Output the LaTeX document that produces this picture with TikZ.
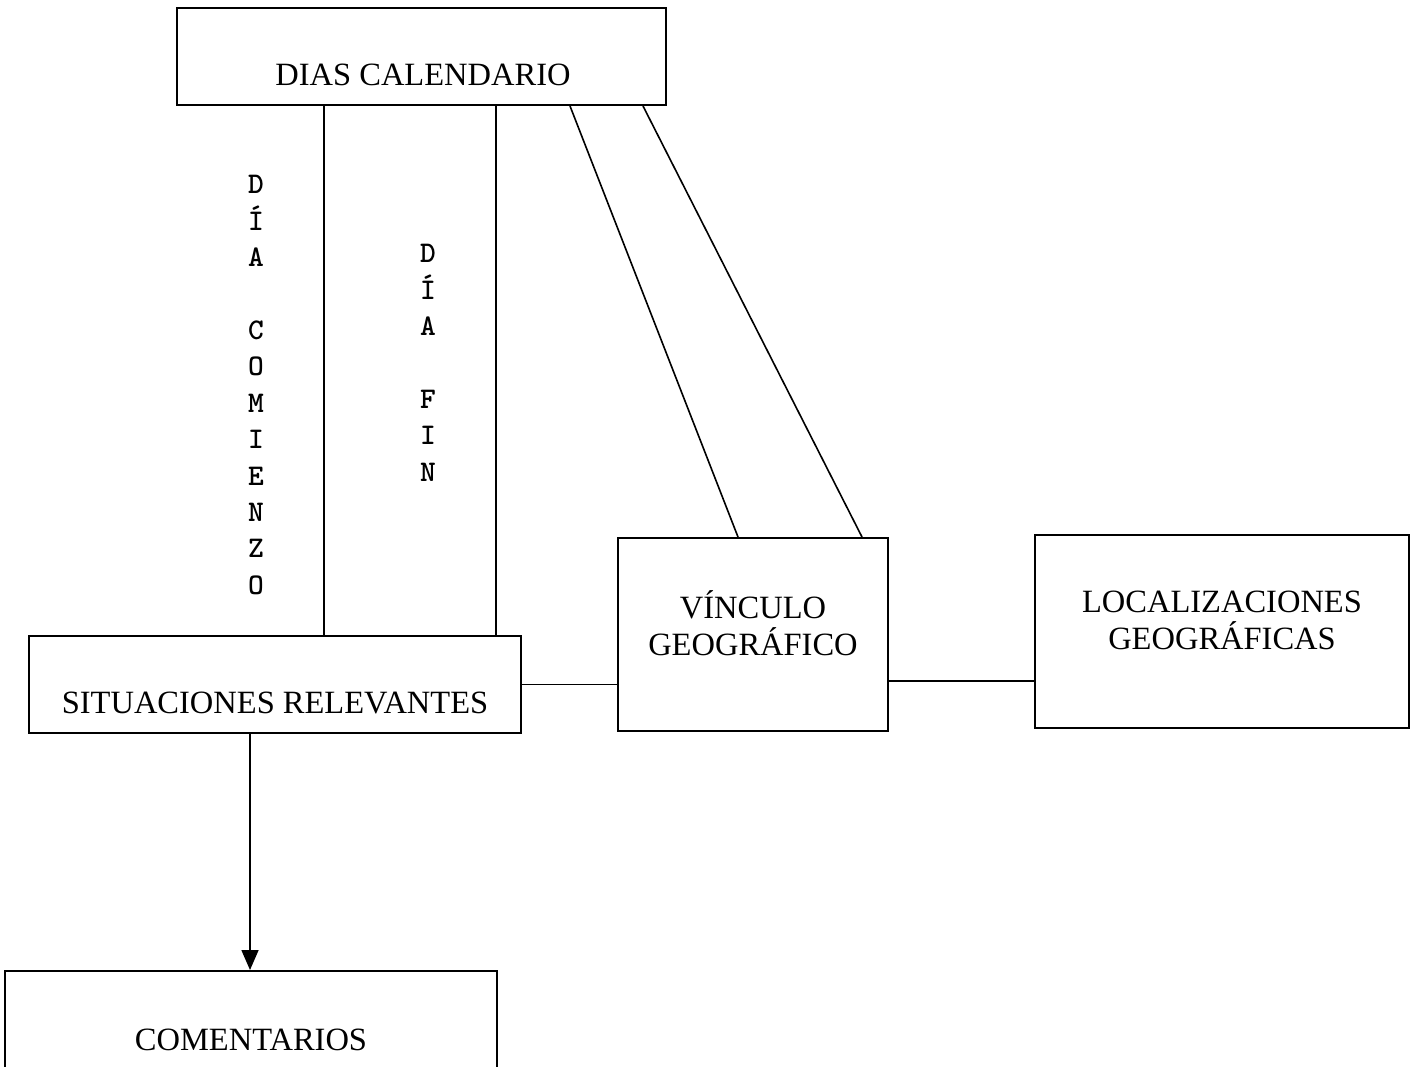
\documentclass[tikz,border=0pt]{standalone}
\usepackage{fontspec}
\setmainfont{Liberation Serif}
\usetikzlibrary{arrows.meta}
\begin{document}
\begin{tikzpicture}[x=1pt,y=-1pt,
  box/.style={draw,line width=2pt,inner sep=0pt},
  lbl/.style={font=\fontsize{32.5}{37}\selectfont,align=center,inner sep=0pt},
  vlbl/.style={font=\ttfamily\bfseries\fontsize{30}{36.4}\selectfont,align=center,inner sep=0pt},
  link/.style={line width=1.6pt},
  tip/.style={-{Triangle[length=20pt,width=17pt]}}]
\clip (0,0) rectangle (1418,1066);
\fill[white] (0,0) rectangle (1418,1066);

% entity boxes
\node[box,minimum width=489pt,minimum height=97pt] (dias) at (421.5,56.5) {};
\node[box,minimum width=492pt,minimum height=97pt] (sit) at (275,684.5) {};
\node[box,minimum width=492pt,minimum height=120pt] (com) at (251,1031) {};
\node[box,minimum width=270pt,minimum height=193pt] (vin) at (753,634.5) {};
\node[box,minimum width=374pt,minimum height=193pt] (loc) at (1222,631.5) {};

% box titles
\node[lbl] (tdias) at (423,75) {DIAS CALENDARIO};
\node[lbl] (tsit) at (275,703) {SITUACIONES RELEVANTES};
\node[lbl] (tcom) at (251,1040) {COMENTARIOS};
\node[lbl] (tvin) at (753,623) {VÍNCULO\\GEOGRÁFICO};
\node[lbl] (tloc) at (1222,620) {LOCALIZACIONES\\GEOGRÁFICAS};

% vertical role names
\node[vlbl] (rcom) at (256,385) {D\\Í\\A\\\mbox{}\\C\\O\\M\\I\\E\\N\\Z\\O};
\node[vlbl] (rfin) at (428,363) {D\\Í\\A\\\mbox{}\\F\\I\\N};

% relationship lines
\coordinate (xa) at (324,0);
\coordinate (xb) at (496,0);
\draw[link] (xa |- dias.south) -- (xa |- sit.north);
\draw[link] (xb |- dias.south) -- (xb |- sit.north);
\draw[link] ([xshift=148.5pt]dias.south) -- ([xshift=-15pt]vin.north);
\draw[link] ([xshift=221.5pt]dias.south) -- ([xshift=109pt]vin.north);
\draw[link] (sit.east) -- (sit.east -| vin.west);
\coordinate (vr) at ([yshift=-46.5pt]vin.east);
\draw[link] (vr) -- (vr -| loc.west);
\coordinate (sd) at ([xshift=-25pt]sit.south);
\draw[link,tip] (sd) -- (sd |- com.north);
\end{tikzpicture}
\end{document}
